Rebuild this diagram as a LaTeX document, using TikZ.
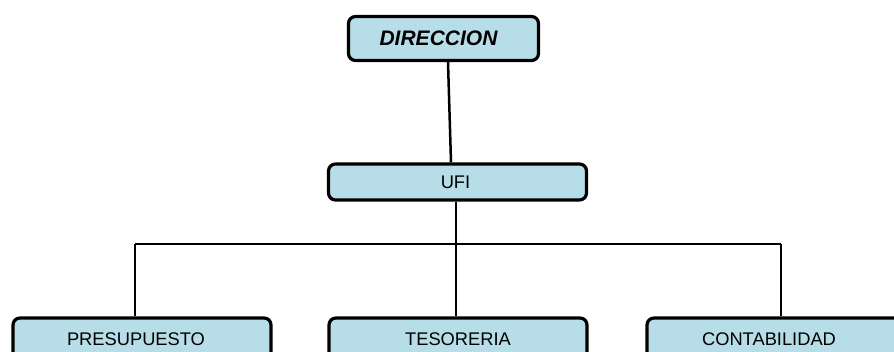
\documentclass[tikz,border=0pt]{standalone}
\usepackage{fontspec}
\setmainfont{Liberation Sans}
\begin{document}
\begin{tikzpicture}[x=1pt,y=-1pt,
  box/.style={draw=black, line width=3.2pt, rounded corners=7pt, fill=boxblue, inner sep=0pt, font=\fontsize{18.3}{21}\selectfont},
  conn/.style={draw=black, line width=2.5pt}]
\definecolor{boxblue}{HTML}{B7DDE8}
\useasboundingbox (0,0) rectangle (894,352);
\clip (0,0) rectangle (894,352);
\node[box, minimum width=190pt, minimum height=44pt, font=\fontsize{21}{24}\selectfont\bfseries\itshape] (dir) at (443.5,38.5) {DIRECCION\hspace*{10pt}};
\node[box, minimum width=258pt, minimum height=36pt] (ufi) at (457.5,182) {\hspace*{-4pt}UFI};
\node[box, minimum width=258pt, minimum height=42pt] (pre) at (142,339) {\hspace*{-12pt}PRESUPUESTO};
\node[box, minimum width=258pt, minimum height=42pt] (tes) at (458,339) {TESORERIA};
\node[box, minimum width=258pt, minimum height=42pt] (con) at (776,339) {\hspace*{-14pt}CONTABILIDAD};
\coordinate (bus) at (456,244);
\coordinate (busL) at (135,244);
\coordinate (busR) at (781,244);
\draw[conn] ([xshift=4.5pt]dir.south) -- ([xshift=-6.5pt]ufi.north);
\draw[conn] ([xshift=-1.5pt]ufi.south) -- (bus);
\draw[conn] (busL) -- (busR);
\draw[conn] (busL) -- (busL |- pre.north);
\draw[conn] (bus) -- (bus |- tes.north);
\draw[conn] (busR) -- (busR |- con.north);
\end{tikzpicture}
\end{document}
